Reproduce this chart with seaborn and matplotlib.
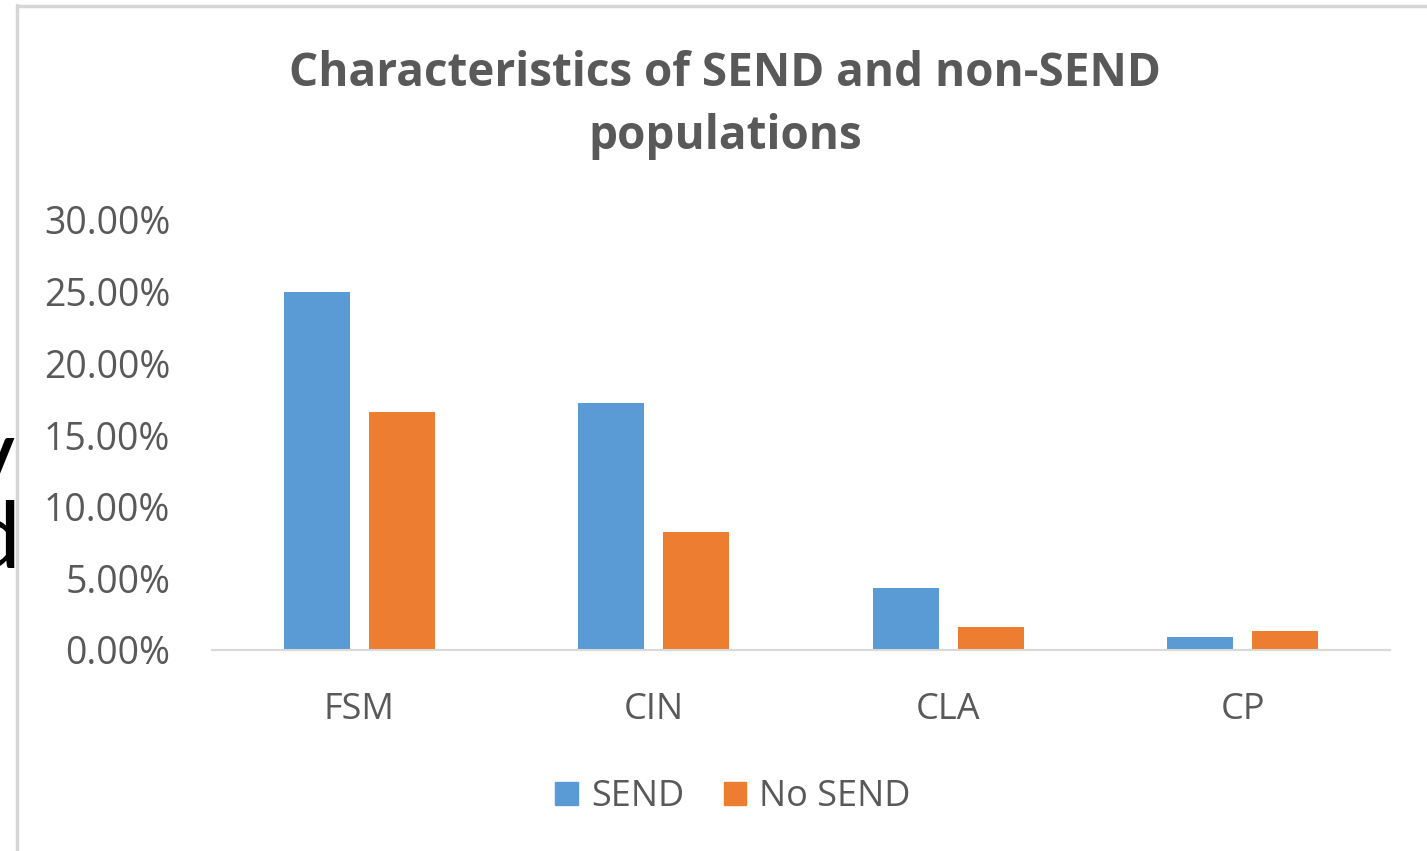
import matplotlib
matplotlib.use("Agg")
import matplotlib.pyplot as plt
import seaborn as sns
import pandas as pd
from matplotlib.ticker import PercentFormatter
from matplotlib.lines import Line2D

categories = ["FSM", "CIN", "CLA", "CP"]
series = ["SEND", "No SEND"]
send_values = [0.250, 0.172, 0.043, 0.009]
no_send_values = [0.166, 0.082, 0.016, 0.013]
y_ticks = [0.0, 0.05, 0.10, 0.15, 0.20, 0.25, 0.30]

colors = {"SEND": "#5B9BD5", "No SEND": "#ED7D31"}
text_color = "#595959"

df = pd.DataFrame({
    "category": categories * 2,
    "series": [series[0]] * len(categories) + [series[1]] * len(categories),
    "value": send_values + no_send_values,
})

sns.set_theme(style="white")
plt.rcParams["font.family"] = ["Open Sans", "DejaVu Sans"]

fig = plt.figure(figsize=(14.27, 8.51), dpi=100)
ax = fig.add_axes([212 / 1427, 1 - 650 / 851, (1390 - 212) / 1427, (650 - 220) / 851])

sns.barplot(data=df, x="category", y="value", hue="series", order=categories,
            hue_order=series, palette=colors, width=0.578, gap=0.225,
            errorbar=None, ax=ax, saturation=1, edgecolor="none")

ax.set_xlim(-0.5, 3.5)
ax.set_ylim(0, 0.30)
ax.set_yticks(y_ticks)
ax.yaxis.set_major_formatter(PercentFormatter(1.0, decimals=2))
ax.set_xlabel("")
ax.set_ylabel("")
for s in ["top", "right", "left"]:
    ax.spines[s].set_visible(False)
ax.spines["bottom"].set_color("#D9D9D9")
ax.spines["bottom"].set_linewidth(1.5)
ax.tick_params(axis="y", length=0, pad=30, labelsize=27, labelcolor=text_color)
ax.tick_params(axis="x", length=0, pad=30, labelsize=26, labelcolor=text_color)

handles = [plt.Rectangle((0, 0), 1, 1, color=colors[s]) for s in series]
leg = ax.legend(handles, series, loc="center", bbox_to_anchor=(733 / 1427, 1 - 797 / 851),
                bbox_transform=fig.transFigure, ncol=2, frameon=False, fontsize=26,
                handlelength=0.62, handleheight=0.62, handletextpad=0.36,
                columnspacing=1.1, labelcolor=text_color)

fig.text(725 / 1427, 1 - 105 / 851, "Characteristics of SEND and non-SEND\npopulations",
         ha="center", va="center", fontsize=33, fontweight="bold", color=text_color,
         linespacing=1.44)

# clipped stray glyphs at the left edge (behind the frame line)
fig.text(15 / 1427, 1 - 489 / 851, "v", ha="right", va="baseline", fontsize=72,
         color="black", family="Lato")
fig.text(21 / 1427, 1 - 568 / 851, "d", ha="right", va="baseline", fontsize=68,
         color="black", family="Lato")
fig.add_artist(Line2D([0, 15 / 1427], [1 - 535 / 851, 1 - 535 / 851], transform=fig.transFigure,
                      color="white", linewidth=0))
fig.patches.append(plt.Rectangle((17.5 / 1427, 0.2), 8 / 1427, 0.6, transform=fig.transFigure,
                                 facecolor="white", edgecolor="none", figure=fig))

# chart frame (light grey border of the screenshot)
fig.add_artist(Line2D([16.5 / 1427, 16.5 / 1427], [0, 1 - 5 / 851], transform=fig.transFigure,
                      color="#D6D6D6", linewidth=2.5))
fig.add_artist(Line2D([16.5 / 1427, 1], [1 - 5.5 / 851, 1 - 5.5 / 851], transform=fig.transFigure,
                      color="#D6D6D6", linewidth=2.5))

fig.savefig("out.png", dpi=100)
